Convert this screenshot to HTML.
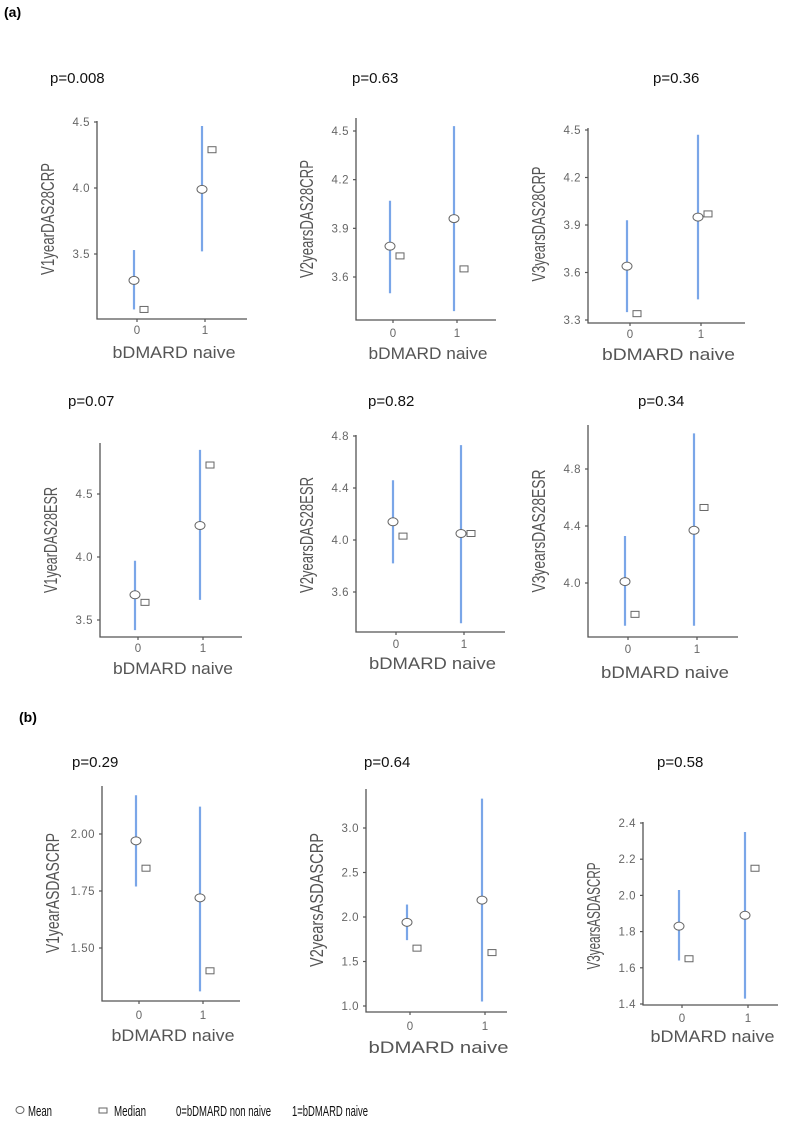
<!DOCTYPE html>
<html><head><meta charset="utf-8"><style>
body{margin:0;background:#fff;}
svg text{font-family:"Liberation Sans",sans-serif;}
</style></head><body>
<svg id="fig" width="787" height="1116" viewBox="0 0 787 1116" xmlns="http://www.w3.org/2000/svg">
<text x="4" y="17" font-size="14" font-weight="bold" fill="#000">(a)</text>
<text x="19" y="722" font-size="14" font-weight="bold" fill="#000">(b)</text>
<g>
<ellipse cx="20" cy="1110" rx="4" ry="3.5" fill="#fff" stroke="#666" stroke-width="1"/>
<text x="28" y="1116" font-size="15" fill="#111" textLength="24" lengthAdjust="spacingAndGlyphs">Mean</text>
<rect x="99" y="1108" width="8" height="5" fill="#fff" stroke="#666" stroke-width="1"/>
<text x="114" y="1116" font-size="15" fill="#111" textLength="32" lengthAdjust="spacingAndGlyphs">Median</text>
<text x="176" y="1116" font-size="15" fill="#111" textLength="95" lengthAdjust="spacingAndGlyphs">0=bDMARD non naive</text>
<text x="292" y="1116" font-size="15" fill="#111" textLength="76" lengthAdjust="spacingAndGlyphs">1=bDMARD naive</text>
</g>
</svg>
<script>
// Data per panel (cat 0, cat 1)
const panelTitles = ["V1yearDAS28CRP","V2yearsDAS28CRP","V3yearsDAS28CRP","V1yearDAS28ESR","V2yearsDAS28ESR","V3yearsDAS28ESR","V1yearASDASCRP","V2yearsASDASCRP","V3yearsASDASCRP"];
const pValues = ["p=0.008","p=0.63","p=0.36","p=0.07","p=0.82","p=0.34","p=0.29","p=0.64","p=0.58"];
const categories = ["0","1"];
const meanValues = [[3.30,3.99],[3.79,3.96],[3.64,3.95],[3.70,4.25],[4.14,4.05],[4.01,4.37],[1.97,1.72],[1.94,2.19],[1.83,1.89]];
const lowValues = [[3.08,3.52],[3.50,3.39],[3.35,3.43],[3.42,3.66],[3.82,3.36],[3.70,3.70],[1.77,1.31],[1.74,1.05],[1.64,1.43]];
const highValues = [[3.53,4.47],[4.07,4.53],[3.93,4.47],[3.97,4.85],[4.46,4.73],[4.33,5.05],[2.17,2.12],[2.14,3.33],[2.03,2.35]];
const medianValues = [[3.08,4.29],[3.73,3.65],[3.34,3.97],[3.64,4.73],[4.03,4.05],[3.78,4.53],[1.85,1.40],[1.65,1.60],[1.65,2.15]];
const tickLabels = [["3.5","4.0","4.5"],["3.6","3.9","4.2","4.5"],["3.3","3.6","3.9","4.2","4.5"],["3.5","4.0","4.5"],["3.6","4.0","4.4","4.8"],["4.0","4.4","4.8"],["1.50","1.75","2.00"],["1.0","1.5","2.0","2.5","3.0"],["1.4","1.6","1.8","2.0","2.2","2.4"]];
// Layout (pixels)
const layout = [
 {l:97,r:247,t:121,b:319,v0:3.5,p0:254,v1:4.5,p1:122,cx:[137,205],px:50,py:83,tly:334,xly:358,xw:123,yw:112,yc:219},
 {l:356,r:496,t:118,b:320,v0:3.6,p0:277,v1:4.5,p1:131,cx:[393,457],px:352,py:83,tly:337,xly:359,xw:119,yw:118,yc:219},
 {l:588,r:745,t:128,b:323,v0:3.3,p0:320,v1:4.5,p1:130,cx:[630,701],px:653,py:83,tly:338,xly:360,xw:133,yw:115,yc:224},
 {l:100,r:242,t:443,b:637,v0:3.5,p0:620,v1:4.5,p1:494,cx:[138,203],px:68,py:406,tly:652,xly:674,xw:120,yw:106,yc:540},
 {l:356,r:505,t:435,b:632,v0:3.6,p0:592,v1:4.8,p1:436,cx:[396,464],px:368,py:406,tly:648,xly:669,xw:127,yw:116,yc:535},
 {l:588,r:738,t:425,b:637,v0:4.0,p0:583,v1:4.8,p1:469,cx:[628,697],px:638,py:406,tly:653,xly:678,xw:128,yw:123,yc:531},
 {l:102,r:240,t:786,b:1001,v0:1.5,p0:948,v1:2.0,p1:834,cx:[139,203],px:72,py:767,tly:1019,xly:1041,xw:123,yw:120,yc:893},
 {l:366,r:507,t:789,b:1012,v0:1.0,p0:1006,v1:3.0,p1:828,cx:[410,485],px:364,py:767,tly:1030,xly:1053,xw:140,yw:134,yc:900},
 {l:643,r:778,t:822,b:1005,v0:1.4,p0:1004,v1:2.4,p1:823,cx:[682,748],px:657,py:767,tly:1022,xly:1042,xw:124,yw:107,yc:916}
];
const svg = document.getElementById('fig');
const NS = 'http://www.w3.org/2000/svg';
function mk(tag, attrs, parent){const e=document.createElementNS(NS,tag);for(const k in attrs)e.setAttribute(k,attrs[k]);parent.appendChild(e);return e;}
for(let i=0;i<layout.length;i++){
  const L=layout[i];
  const y=v=>L.p0+(v-L.v0)*(L.p1-L.p0)/(L.v1-L.v0);
  const g=mk('g',{},svg);
  
  
  const pt=mk('text',{x:L.px,y:L.py,'font-size':15,fill:'#111'},g);
  pt.textContent=pValues[i];
  
  
  const ax=mk('path',{d:`M${L.l},${L.t}V${L.b}H${L.r}`,fill:'none',stroke:'#555','stroke-width':1.3},g);
  
  
  tickLabels[i].forEach(s=>{
    const v=parseFloat(s),yy=y(v);
    const tk=mk('line',{x1:L.l-3,x2:L.l,y1:yy,y2:yy,stroke:'#555','stroke-width':1.2},g);
    
    
    const tl=mk('text',{x:L.l-7,y:yy+4,'font-size':11.5,fill:'#666','text-anchor':'end','letter-spacing':'0.5'},g);
    tl.textContent=s;
    
    
  });
  categories.forEach((c,j)=>{
    const x=L.cx[j];
    const tk=mk('line',{x1:x,x2:x,y1:L.b,y2:L.b+3,stroke:'#555','stroke-width':1.2},g);
    
    
    const tl=mk('text',{x:x,y:L.tly,'font-size':11.5,fill:'#666','text-anchor':'middle'},g);
    tl.textContent=c;
    
    
    const bx=x-3;
    const eb=mk('line',{x1:bx,x2:bx,y1:y(lowValues[i][j]),y2:y(highValues[i][j]),stroke:'#7aa6e8','stroke-width':2.2},g);
    
    
    const md=mk('rect',{x:bx+6,y:y(medianValues[i][j])-3,width:8,height:6,fill:'#fff',stroke:'#666','stroke-width':1},g);
    
    
    const mn=mk('ellipse',{cx:bx,cy:y(meanValues[i][j]),rx:5,ry:4,fill:'#fff',stroke:'#666','stroke-width':1},g);
    
    
  });
  const xc=(L.l+L.r)/2+2;
  const xl=mk('text',{x:xc-L.xw/2,y:L.xly,'font-size':17,fill:'#555',textLength:L.xw,lengthAdjust:'spacingAndGlyphs'},g);
  xl.textContent='bDMARD naive';
  
  
  const cy=L.yc, tx=L.l-49;
  const yl=mk('text',{'font-size':18,fill:'#555',textLength:L.yw,lengthAdjust:'spacingAndGlyphs'},g);
  yl.setAttribute('transform',`translate(${tx} ${cy}) rotate(-90) translate(${-tx} ${-cy})`);
  yl.setAttribute('x',tx-L.yw/2);
  yl.setAttribute('y',cy+6);
  yl.textContent=panelTitles[i];
  
  
}
</script>
</body></html>
